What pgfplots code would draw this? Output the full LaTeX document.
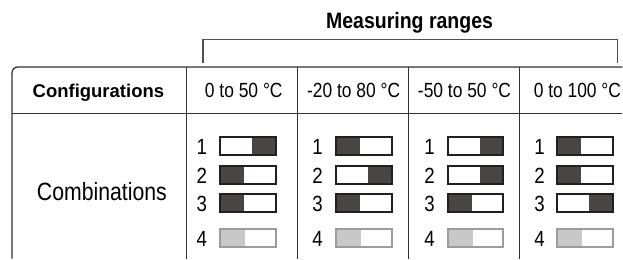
\documentclass[border=0pt]{standalone}
\usepackage{pgfplots}
\pgfplotsset{compat=1.18}
\usepackage{fontspec}
\setmainfont{Liberation Sans}
\newfontfamily\narrow[FakeStretch=0.85]{Liberation Sans}
\newfontfamily\titlef[FakeStretch=0.875]{Liberation Sans Bold}
\definecolor{dark}{HTML}{4A4545}
\definecolor{edge}{HTML}{231F20}
\definecolor{lgray}{HTML}{C8C8C8}
\definecolor{lgedge}{HTML}{9C9C9C}
\definecolor{rule}{HTML}{333333}
\definecolor{bracket}{HTML}{505050}
% #1 x0, #2 x1, #3 y0, #4 y1, #5 fill x0, #6 fill x1, #7 fill colour, #8 edge colour
\newcommand{\sw}[8]{%
  \addplot[fill=#7, draw=none] coordinates {(#5,#3) (#6,#3) (#6,#4) (#5,#4)} -- cycle;
  \addplot[draw=#8, line width=2bp, line join=miter] coordinates {(#1,#3) (#2,#3) (#2,#4) (#1,#4)} -- cycle;
}
\begin{document}
\begin{tikzpicture}
\begin{axis}[x=1bp, y=1bp, y dir=reverse, xmin=0, xmax=623, ymin=0, ymax=259,
  hide axis, clip=false, no markers]
\addplot[draw=none] coordinates {(0,0) (623,259)};
% bracket
\addplot[color=bracket, line width=1.5bp] coordinates {(203,63) (203,39.5) (618,39.5) (618,63)};
% table frame
\addplot[color=rule, line width=1.3bp, rounded corners=6bp] coordinates {(12,259) (12,67) (623,67)};
\addplot[color=rule, line width=1bp] coordinates {(12,114) (623,114)};
\addplot[color=rule, line width=1bp] coordinates {(187,67) (187,259)};
\addplot[color=rule, line width=1bp] coordinates {(298,67) (298,259)};
\addplot[color=rule, line width=1bp] coordinates {(409,67) (409,259)};
\addplot[color=rule, line width=1bp] coordinates {(520,67) (520,259)};
% switches: column 1 (0 to 50)
\sw{220}{276}{137}{155}{252}{276}{dark}{edge}
\sw{220}{276}{166}{184}{220}{244}{dark}{edge}
\sw{220}{276}{194}{212}{220}{244}{dark}{edge}
\sw{220}{276}{229}{247}{220}{245}{lgray}{lgedge}
% column 2 (-20 to 80)
\sw{336}{392}{137}{155}{336}{360}{dark}{edge}
\sw{336}{392}{166}{184}{368}{392}{dark}{edge}
\sw{336}{392}{194}{212}{336}{360}{dark}{edge}
\sw{336}{392}{229}{247}{336}{361}{lgray}{lgedge}
% column 3 (-50 to 50)
\sw{448}{504}{137}{155}{480}{504}{dark}{edge}
\sw{448}{504}{166}{184}{480}{504}{dark}{edge}
\sw{448}{504}{194}{212}{448}{472}{dark}{edge}
\sw{448}{504}{229}{247}{448}{473}{lgray}{lgedge}
% column 4 (0 to 100)
\sw{558}{614}{137}{155}{558}{582}{dark}{edge}
\sw{558}{614}{166}{184}{558}{582}{dark}{edge}
\sw{558}{614}{194}{212}{590}{614}{dark}{edge}
\sw{558}{614}{229}{247}{558}{583}{lgray}{lgedge}
% texts
\node[anchor=base, inner sep=0pt] at (axis cs:410,29) {\titlef\fontsize{22.3bp}{26bp}\selectfont Measuring ranges};
\node[anchor=base, inner sep=0pt] at (axis cs:98.5,98) {\fontsize{18.5bp}{22bp}\selectfont\bfseries Configurations};
\node[anchor=base, inner sep=0pt] at (axis cs:102,201) {\narrow\fontsize{25bp}{30bp}\selectfont Combinations};
\node[anchor=base, inner sep=0pt] at (axis cs:244,98) {\narrow\fontsize{20.5bp}{24bp}\selectfont 0 to 50 °C};
\node[anchor=base, inner sep=0pt] at (axis cs:354,98) {\narrow\fontsize{20.5bp}{24bp}\selectfont -20 to 80 °C};
\node[anchor=base, inner sep=0pt] at (axis cs:465,98) {\narrow\fontsize{20.5bp}{24bp}\selectfont -50 to 50 °C};
\node[anchor=base, inner sep=0pt] at (axis cs:578,98) {\narrow\fontsize{20.5bp}{24bp}\selectfont 0 to 100 °C};
% switch numbers
\pgfplotsinvokeforeach{202,318,430,540}{
  \node[anchor=base, inner sep=0pt] at (axis cs:#1,155) {\narrow\fontsize{22bp}{26bp}\selectfont 1};
  \node[anchor=base, inner sep=0pt] at (axis cs:#1,184) {\narrow\fontsize{22bp}{26bp}\selectfont 2};
  \node[anchor=base, inner sep=0pt] at (axis cs:#1,212) {\narrow\fontsize{22bp}{26bp}\selectfont 3};
  \node[anchor=base, inner sep=0pt] at (axis cs:#1,247) {\narrow\fontsize{22bp}{26bp}\selectfont 4};
}
\end{axis}
\end{tikzpicture}
\end{document}
